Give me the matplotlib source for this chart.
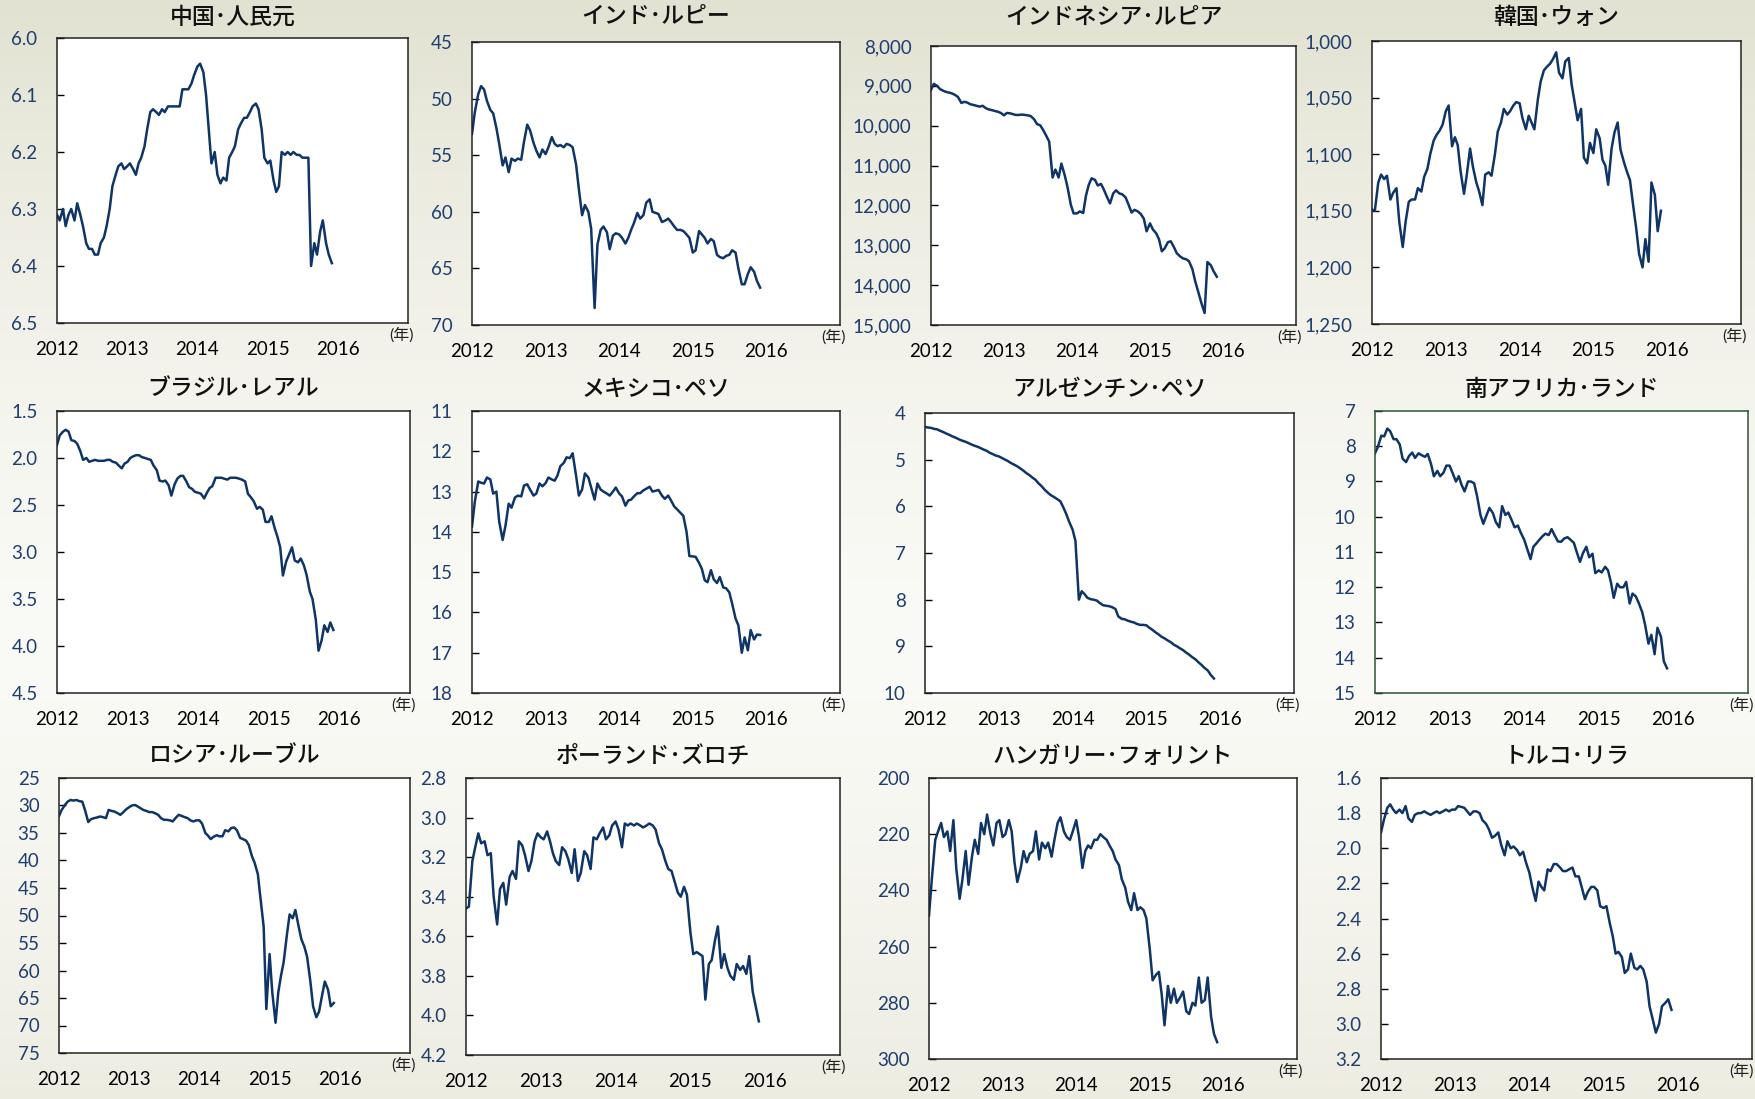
import numpy as np
import pandas as pd
import matplotlib
matplotlib.use("Agg")
import matplotlib.pyplot as plt
from matplotlib.ticker import FuncFormatter, MultipleLocator

plt.rcParams['font.family'] = ['Lato', 'Noto Sans CJK JP', 'DejaVu Sans']

# semi-monthly sample dates (1st and 15th), Jan 2012 - Dec 2015
dates = pd.date_range("2012-01-01", periods=95, freq="SMS")
years = dates.year + (dates.dayofyear - 1) / 365.0

titles = ["中国･人民元", "インド･ルピー", "インドネシア･ルピア", "韓国･ウォン",
          "ブラジル･レアル", "メキシコ･ペソ", "アルゼンチン･ペソ", "南アフリカ･ランド",
          "ロシア･ルーブル", "ポーランド･ズロチ", "ハンガリー･フォリント", "トルコ･リラ"]

cny = [6.31, 6.32, 6.30, 6.33, 6.31, 6.30, 6.32, 6.29, 6.31, 6.33, 6.36, 6.37, 6.37, 6.38, 6.38,
       6.36, 6.35, 6.33, 6.30, 6.26, 6.24, 6.225, 6.22, 6.23, 6.225, 6.22, 6.23, 6.24, 6.22, 6.21,
       6.19, 6.16, 6.13, 6.125, 6.13, 6.135, 6.125, 6.13, 6.12, 6.12, 6.12, 6.12, 6.12, 6.09, 6.09,
       6.09, 6.08, 6.065, 6.05, 6.045, 6.06, 6.10, 6.16, 6.22, 6.20, 6.24, 6.255, 6.245, 6.25, 6.21,
       6.20, 6.19, 6.16, 6.15, 6.14, 6.14, 6.13, 6.12, 6.115, 6.125, 6.16, 6.21, 6.22, 6.215, 6.25,
       6.27, 6.26, 6.20, 6.205, 6.20, 6.205, 6.20, 6.205, 6.205, 6.21, 6.21, 6.21, 6.40, 6.36, 6.38,
       6.34, 6.32, 6.36, 6.38, 6.395]
inr = [53.1, 51.2, 49.6, 48.9, 49.2, 50.2, 51.0, 51.3, 52.6, 54.0, 55.9, 55.2, 56.5, 55.3, 55.5,
       55.3, 55.4, 53.8, 52.3, 52.8, 53.9, 54.6, 55.2, 54.5, 54.9, 54.3, 53.4, 54.0, 54.2, 54.1,
       54.3, 54.0, 54.1, 54.3, 55.8, 58.0, 60.3, 59.4, 60.0, 61.5, 68.5, 62.9, 61.6, 61.3, 61.8,
       63.3, 62.1, 61.9, 62.0, 62.3, 62.8, 62.3, 61.6, 61.0, 60.1, 60.6, 60.3, 59.2, 58.9, 60.0,
       60.1, 60.2, 60.9, 60.8, 60.6, 60.9, 61.3, 61.6, 61.6, 61.7, 62.0, 62.3, 63.6, 63.4, 61.7,
       62.0, 62.3, 62.8, 62.4, 62.6, 63.8, 64.0, 64.1, 63.9, 63.8, 63.4, 63.6, 65.0, 66.4, 66.4,
       65.5, 64.9, 65.3, 66.1, 66.7]
idr = [9100, 8950, 9000, 9080, 9120, 9150, 9170, 9190, 9230, 9280, 9430, 9400, 9420, 9460, 9480,
       9500, 9520, 9500, 9560, 9590, 9610, 9630, 9650, 9680, 9740, 9680, 9690, 9710, 9730, 9730,
       9720, 9730, 9740, 9760, 9840, 9960, 9990, 10100, 10260, 10400, 11300, 11100, 11300, 10950, 11250,
       11550, 11980, 12200, 12200, 12150, 12190, 11750, 11480, 11320, 11360, 11500, 11460, 11600, 11800, 11950,
       11700, 11620, 11700, 11720, 11800, 11970, 12180, 12110, 12150, 12210, 12330, 12650, 12450, 12600, 12700,
       12850, 13150, 13080, 12920, 12900, 13050, 13200, 13280, 13330, 13350, 13400, 13600, 13900, 14200, 14450,
       14700, 13420, 13500, 13650, 13790]
krw = [1149, 1150, 1125, 1118, 1122, 1119, 1140, 1134, 1130, 1160, 1182, 1160, 1142, 1140, 1140,
       1130, 1133, 1120, 1113, 1100, 1088, 1083, 1079, 1074, 1062, 1057, 1093, 1085, 1092, 1115,
       1135, 1118, 1095, 1111, 1125, 1133, 1145, 1118, 1116, 1119, 1100, 1080, 1072, 1060, 1065,
       1062, 1057, 1054, 1055, 1068, 1078, 1066, 1072, 1078, 1052, 1036, 1026, 1023, 1020, 1016,
       1010, 1028, 1033, 1018, 1015, 1038, 1055, 1070, 1060, 1103, 1108, 1090, 1099, 1078, 1086,
       1105, 1110, 1127, 1095, 1081, 1072, 1096, 1107, 1115, 1123, 1143, 1166, 1188, 1200, 1175,
       1195, 1125, 1136, 1168, 1150]
brl = [1.86, 1.76, 1.72, 1.70, 1.72, 1.81, 1.82, 1.85, 1.93, 2.02, 2.00, 2.04, 2.03, 2.02, 2.03,
       2.03, 2.03, 2.02, 2.02, 2.04, 2.05, 2.08, 2.11, 2.06, 2.04, 2.00, 1.98, 1.97, 1.97, 1.99,
       2.00, 2.01, 2.02, 2.08, 2.13, 2.24, 2.25, 2.24, 2.29, 2.40, 2.28, 2.22, 2.19, 2.19, 2.25,
       2.31, 2.33, 2.36, 2.37, 2.38, 2.43, 2.37, 2.32, 2.30, 2.21, 2.21, 2.21, 2.22, 2.23, 2.21,
       2.21, 2.21, 2.22, 2.23, 2.25, 2.38, 2.42, 2.46, 2.54, 2.52, 2.55, 2.68, 2.68, 2.62, 2.75,
       2.84, 2.95, 3.25, 3.10, 3.03, 2.95, 3.09, 3.11, 3.07, 3.14, 3.24, 3.42, 3.50, 3.72, 4.05,
       3.94, 3.78, 3.85, 3.75, 3.83]
mxn = [13.87, 13.25, 12.75, 12.78, 12.80, 12.65, 12.70, 13.05, 13.00, 13.75, 14.20, 13.85, 13.30, 13.40, 13.15,
       13.10, 13.12, 12.85, 12.82, 12.95, 13.10, 13.05, 12.80, 12.87, 12.79, 12.65, 12.70, 12.73, 12.60, 12.37,
       12.29, 12.15, 12.17, 12.05, 12.60, 13.10, 12.95, 12.55, 12.65, 12.90, 13.20, 12.80, 12.95, 13.00, 13.05,
       13.10, 13.00, 12.90, 13.05, 13.12, 13.35, 13.22, 13.20, 13.12, 13.04, 13.04, 12.97, 12.93, 12.88, 13.00,
       12.98, 12.96, 13.10, 13.18, 13.10, 13.22, 13.37, 13.44, 13.53, 13.60, 14.00, 14.60, 14.61, 14.62, 14.77,
       14.92, 15.20, 15.25, 14.95, 15.18, 15.27, 15.12, 15.38, 15.40, 15.50, 15.78, 16.15, 16.32, 17.00, 16.62,
       16.94, 16.44, 16.67, 16.55, 16.56]
ars = [4.30, 4.31, 4.32, 4.34, 4.35, 4.38, 4.41, 4.44, 4.47, 4.50, 4.53, 4.56, 4.59, 4.61, 4.64,
       4.67, 4.70, 4.72, 4.75, 4.78, 4.81, 4.85, 4.88, 4.91, 4.93, 4.96, 5.00, 5.03, 5.07, 5.10,
       5.14, 5.18, 5.23, 5.28, 5.33, 5.38, 5.43, 5.50, 5.57, 5.64, 5.71, 5.76, 5.80, 5.84, 5.89,
       6.01, 6.17, 6.33, 6.50, 6.74, 8.00, 7.82, 7.88, 7.96, 7.99, 8.00, 8.02, 8.07, 8.12, 8.13,
       8.14, 8.16, 8.20, 8.36, 8.41, 8.42, 8.45, 8.47, 8.49, 8.52, 8.54, 8.54, 8.55, 8.60, 8.65,
       8.70, 8.74, 8.79, 8.83, 8.87, 8.91, 8.96, 9.00, 9.04, 9.08, 9.13, 9.18, 9.23, 9.28, 9.34,
       9.40, 9.46, 9.52, 9.61, 9.69]
zar = [8.20, 8.02, 7.70, 7.72, 7.50, 7.57, 7.80, 7.80, 7.95, 8.35, 8.45, 8.28, 8.18, 8.33, 8.20,
       8.25, 8.30, 8.22, 8.50, 8.85, 8.70, 8.85, 8.75, 8.55, 8.55, 8.75, 9.00, 8.85, 9.10, 9.28,
       9.00, 9.00, 9.05, 9.40, 9.95, 10.20, 9.95, 9.75, 9.90, 10.15, 10.30, 9.70, 9.95, 9.88, 10.10,
       10.30, 10.25, 10.45, 10.65, 10.90, 11.20, 10.85, 10.76, 10.66, 10.55, 10.48, 10.52, 10.35, 10.55, 10.70,
       10.71, 10.62, 10.58, 10.65, 10.74, 11.00, 11.28, 11.04, 10.85, 11.15, 11.05, 11.60, 11.52, 11.58, 11.42,
       11.52, 11.85, 12.30, 11.90, 12.00, 12.00, 11.85, 12.46, 12.18, 12.26, 12.44, 12.70, 13.05, 13.60, 13.35,
       13.90, 13.15, 13.40, 14.10, 14.30]
rub = [31.9, 30.8, 29.9, 29.3, 29.0, 29.1, 29.0, 29.2, 29.3, 30.8, 33.0, 32.5, 32.3, 32.2, 32.0,
       32.1, 32.3, 30.8, 31.0, 31.1, 31.4, 31.7, 31.2, 30.7, 30.3, 30.0, 29.9, 30.2, 30.5, 30.8,
       31.0, 31.2, 31.2, 31.4, 31.7, 32.3, 32.6, 32.6, 32.7, 32.9, 32.2, 31.7, 31.9, 32.1, 32.3,
       32.7, 32.9, 32.7, 32.7, 33.3, 35.0, 35.5, 36.1, 35.7, 35.4, 35.6, 35.6, 34.5, 34.7, 34.1,
       34.0, 34.5, 35.9, 36.1, 36.4, 37.2, 39.2, 40.4, 42.5, 47.0, 52.0, 67.0, 57.0, 64.0, 69.5,
       64.0, 61.0, 58.5, 53.5, 49.8, 50.5, 49.0, 52.0, 54.3, 55.7, 57.5, 62.0, 66.5, 68.5, 67.5,
       64.5, 62.0, 63.5, 66.5, 65.9]
pln = [3.46, 3.45, 3.22, 3.15, 3.08, 3.13, 3.12, 3.19, 3.18, 3.40, 3.54, 3.36, 3.33, 3.44, 3.30,
       3.27, 3.31, 3.12, 3.14, 3.19, 3.27, 3.22, 3.12, 3.08, 3.10, 3.11, 3.07, 3.12, 3.18, 3.22,
       3.24, 3.15, 3.17, 3.21, 3.28, 3.16, 3.32, 3.28, 3.17, 3.19, 3.26, 3.10, 3.11, 3.08, 3.05,
       3.11, 3.09, 3.04, 3.02, 3.06, 3.15, 3.03, 3.04, 3.03, 3.04, 3.03, 3.04, 3.05, 3.04, 3.03,
       3.04, 3.06, 3.13, 3.16, 3.22, 3.26, 3.27, 3.32, 3.38, 3.40, 3.35, 3.39, 3.58, 3.69, 3.68,
       3.69, 3.70, 3.92, 3.74, 3.72, 3.62, 3.55, 3.76, 3.69, 3.76, 3.80, 3.82, 3.74, 3.77, 3.75,
       3.79, 3.70, 3.88, 3.95, 4.03]
huf = [249, 236, 222, 219, 216, 221, 219, 226, 215, 232, 243, 236, 226, 238, 228,
       222, 227, 216, 220, 213, 220, 224, 216, 215, 221, 220, 215, 219, 230, 237,
       232, 226, 230, 227, 226, 219, 229, 223, 225, 223, 228, 222, 216, 214, 219,
       221, 222, 219, 215, 221, 232, 226, 224, 225, 222, 222, 220, 221, 222, 224,
       226, 229, 231, 236, 239, 244, 247, 241, 247, 246, 247, 250, 261, 272, 270,
       269, 277, 288, 274, 280, 275, 280, 278, 276, 283, 284, 280, 281, 271, 280,
       279, 271, 285, 291, 294]
tryl = [1.91, 1.84, 1.77, 1.75, 1.78, 1.80, 1.78, 1.80, 1.76, 1.83, 1.85, 1.81, 1.80, 1.80, 1.79,
        1.80, 1.81, 1.80, 1.79, 1.80, 1.79, 1.78, 1.79, 1.78, 1.78, 1.76, 1.765, 1.77, 1.79, 1.81,
        1.79, 1.79, 1.80, 1.84, 1.86, 1.89, 1.94, 1.93, 1.91, 1.98, 2.04, 1.96, 2.00, 1.99, 2.01,
        2.04, 2.02, 2.08, 2.14, 2.22, 2.30, 2.19, 2.22, 2.24, 2.12, 2.13, 2.09, 2.09, 2.11, 2.13,
        2.13, 2.12, 2.11, 2.16, 2.16, 2.22, 2.29, 2.25, 2.22, 2.22, 2.24, 2.33, 2.34, 2.33, 2.43,
        2.50, 2.60, 2.59, 2.62, 2.71, 2.69, 2.60, 2.68, 2.69, 2.67, 2.69, 2.76, 2.90, 2.98, 3.05,
        3.00, 2.90, 2.88, 2.86, 2.92]

series = [cny, inr, idr, krw, brl, mxn, ars, zar, rub, pln, huf, tryl]
# (low, high, step) of each inverted y axis
yranges = [(6.0, 6.5, 0.1), (45, 70, 5), (8000, 15000, 1000), (1000, 1250, 50),
           (1.5, 4.5, 0.5), (11, 18, 1), (4, 10, 1), (7, 15, 1),
           (25, 75, 5), (2.8, 4.2, 0.2), (200, 300, 20), (1.6, 3.2, 0.2)]
yfmt = ["{:.1f}", "{:.0f}", "{:,.0f}", "{:,.0f}",
        "{:.1f}", "{:.0f}", "{:.0f}", "{:.0f}",
        "{:.0f}", "{:.1f}", "{:.0f}", "{:.1f}"]

# axes boxes in pixels (x0, y0, x1, y1), y from top
boxes = [(57, 38, 408, 323), (472, 42, 840, 325), (931, 46, 1296, 325), (1372, 41, 1741, 324),
         (57, 411, 410, 693), (472, 411, 840, 693), (925, 413, 1294, 693), (1375, 411, 1748, 693),
         (59, 778, 410, 1053), (466, 778, 840, 1055), (929, 778, 1297, 1059), (1381, 778, 1752, 1059)]
title_y = [17, 389, 756]

W, H = 1756, 1099
fig = plt.figure(figsize=(W / 100, H / 100), dpi=100)

# background gradient
bg = fig.add_axes([0, 0, 1, 1], zorder=-10)
t = np.linspace(0, 1, 300)[:, None]
top = np.array([226, 226, 210]) / 255
mid = np.array([250, 250, 246]) / 255
bot = np.array([228, 228, 213]) / 255
w = np.clip(np.abs(t - 0.58) / 0.58, 0, 1) ** 1.5
grad = np.where(t < 0.58, 1, 0)[..., None] * (mid + (top - mid) * w[..., None]) + \
       np.where(t >= 0.58, 1, 0)[..., None] * (mid + (bot - mid) * w[..., None])
bg.imshow(np.repeat(grad, 10, axis=1), aspect='auto', extent=[0, 1, 0, 1])
bg.axis('off')

line_c = '#0f3466'
tick_c = '#1f3e6e'

for k in range(12):
    x0, y0, x1, y1 = boxes[k]
    ax = fig.add_axes([x0 / W, 1 - y1 / H, (x1 - x0) / W, (y1 - y0) / H])
    ax.set_facecolor('white')
    ax.plot(years, series[k], color=line_c, lw=1.8)
    lo, hi, st = yranges[k]
    ax.set_ylim(hi, lo)
    ax.yaxis.set_major_locator(MultipleLocator(st))
    f = yfmt[k]
    ax.yaxis.set_major_formatter(FuncFormatter(lambda v, p, f=f: f.format(v)))
    ax.set_xlim(2012, 2017)
    ax.set_xticks([2012, 2013, 2014, 2015, 2016])
    ax.set_xticklabels(["2012", "2013", "2014", "2015", "2016"])
    ax.tick_params(axis='y', direction='in', length=5, width=1, colors='black',
                   labelcolor=tick_c, labelsize=13.5, pad=14)
    ax.tick_params(axis='x', length=0, labelsize=13.5, pad=13, labelcolor='black')
    spc = '#2f5233' if k == 7 else '#222222'
    for s in ax.spines.values():
        s.set_color(spc)
        s.set_linewidth(1.1)
    # unit label under the right end of each axis, kept inside the figure
    nx = (x1 - 6) / W
    if nx > 1 - 16 / W:
        fig.text(1 - 2 / W, 1 - (y1 + 12) / H, "(年)", ha='right', va='center',
                 fontsize=11.5, color='#222222')
    else:
        fig.text(nx, 1 - (y1 + 12) / H, "(年)", ha='center', va='center',
                 fontsize=11.5, color='#222222')
    fig.text((x0 + x1) / 2 / W, 1 - title_y[k // 4] / H, titles[k], ha='center', va='center',
             fontsize=16.5, fontweight='medium', family=['Noto Sans CJK JP', 'DejaVu Sans'],
             color='#111111')

fig.savefig("out.png", dpi=100)
